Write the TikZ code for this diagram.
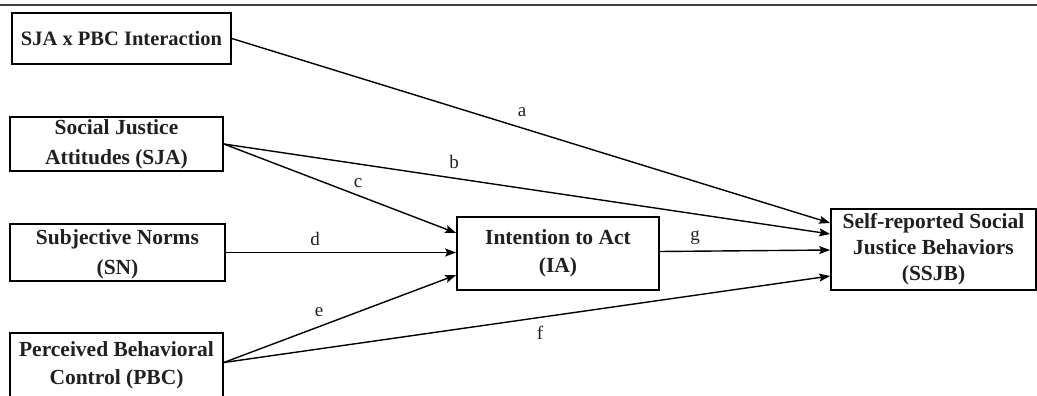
\documentclass[tikz,border=0pt]{standalone}
\usepackage{fontspec}
\setmainfont{Liberation Serif}
\usetikzlibrary{arrows.meta}
\definecolor{ink}{HTML}{231F20}
\begin{document}
\begin{tikzpicture}[x=1pt,y=-1pt,
  box/.style={draw=black, line width=1.7pt, inner sep=0pt, align=center,
    text=ink, font=\fontsize{21.5}{30}\selectfont\bfseries},
  conn/.style={line width=1.4pt, -{Stealth[length=11pt,width=8pt,inset=2pt]}},
  lab/.style={inner sep=0pt, text=ink, font=\fontsize{19}{22}\selectfont}]
\useasboundingbox (0,0) rectangle (1037,396);
\draw[line width=2.2pt, draw=black!75] (0,5) -- (1037,5);
\node[box, minimum width=219pt, minimum height=51pt, font=\fontsize{20.5}{28}\selectfont\bfseries] (inter) at (121.5,38.5) {SJA x PBC Interaction};
\node[box, minimum width=213pt, minimum height=54pt] (sja) at (116.5,144) {Social Justice\\Attitudes (SJA)};
\node[box, minimum width=215pt, minimum height=57pt, text depth=-2pt] (sn) at (117.5,252.5) {Subjective Norms\\(SN)};
\node[box, minimum width=213pt, minimum height=64pt, font=\fontsize{21.5}{28}\selectfont\bfseries] (pbc) at (116.5,365) {Perceived Behavioral\\Control (PBC)};
\node[box, minimum width=202pt, minimum height=73pt, font=\fontsize{21.5}{28}\selectfont\bfseries] (ia) at (558,253.5) {Intention to Act\\(IA)};
\node[box, minimum width=205pt, minimum height=81pt, font=\fontsize{21.5}{26}\selectfont\bfseries] (ssjb) at (933.5,249.5) {Self-reported Social\\Justice Behaviors\\(SSJB)};
\draw[conn] (inter.east) -- ([yshift=26.5pt]ssjb.west);
\draw[conn] (sja.east) -- ([yshift=15.5pt]ssjb.west);
\draw[conn] (sja.east) -- ([yshift=20.5pt]ia.west);
\draw[conn] (sn.east) -- (sn.east -| ia.west);
\draw[conn] ([yshift=2.5pt]pbc.east) -- ([yshift=-21.5pt]ia.west);
\draw[conn] ([yshift=2.5pt]pbc.east) -- ([yshift=-26.5pt]ssjb.west);
\draw[conn] ([yshift=2pt]ia.east) -- ([yshift=-0.5pt]ssjb.west);
\node[lab] (la) at (522,112) {a};
\node[lab] (lb) at (454,162) {b};
\node[lab] (lc) at (358,183) {c};
\node[lab] (ld) at (315,239) {d};
\node[lab] (le) at (319,312) {e};
\node[lab] (lf) at (540,333) {f};
\node[lab] (lg) at (695,238) {g};
\end{tikzpicture}
\end{document}
